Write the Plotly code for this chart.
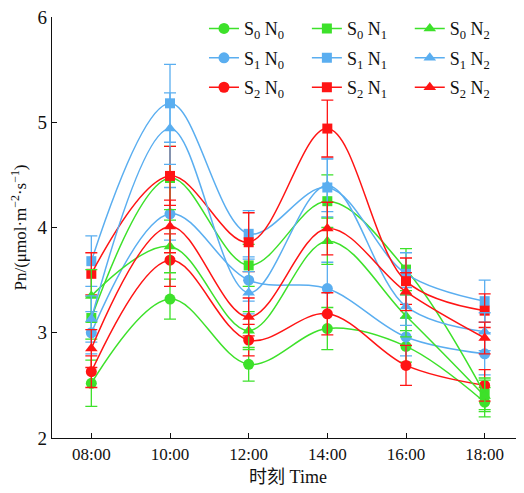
import plotly.graph_objects as go

times = ["08:00", "10:00", "12:00", "14:00", "16:00", "18:00"]

s0n0 = [2.52, 3.32, 2.70, 3.04, 2.87, 2.34]
s0n1 = [3.14, 4.47, 3.64, 4.25, 3.60, 2.42]
s0n2 = [3.35, 3.82, 3.02, 3.87, 3.16, 2.40]
s1n0 = [3.00, 4.13, 3.50, 3.42, 2.96, 2.80]
s1n1 = [3.68, 5.18, 3.94, 4.38, 3.56, 3.30]
s1n2 = [3.13, 4.94, 3.38, 4.40, 3.25, 3.01]
s2n0 = [2.63, 3.69, 2.93, 3.18, 2.69, 2.50]
s2n1 = [3.56, 4.49, 3.86, 4.94, 3.49, 3.21]
s2n2 = [2.85, 4.01, 3.15, 3.99, 3.39, 2.95]

e_s0n0 = [0.22, 0.19, 0.16, 0.20, 0.15, 0.14]
e_s0n1 = [0.20, 0.30, 0.20, 0.25, 0.20, 0.15]
e_s0n2 = [0.25, 0.25, 0.18, 0.22, 0.20, 0.15]
e_s1n0 = [0.20, 0.25, 0.20, 0.25, 0.18, 0.20]
e_s1n1 = [0.24, 0.37, 0.22, 0.28, 0.20, 0.20]
e_s1n2 = [0.22, 0.34, 0.20, 0.25, 0.18, 0.18]
e_s2n0 = [0.15, 0.25, 0.15, 0.20, 0.19, 0.15]
e_s2n1 = [0.20, 0.28, 0.28, 0.27, 0.22, 0.16]
e_s2n2 = [0.18, 0.25, 0.18, 0.25, 0.18, 0.15]

GREEN = "#3de12a"
BLUE = "#5aaef0"
RED = "#ff1414"
FONT = "Liberation Serif, Times New Roman, serif"

series = [
    ("S<sub>0</sub> N<sub>0</sub>", s0n0, e_s0n0, GREEN, "circle", "legend"),
    ("S<sub>1</sub> N<sub>0</sub>", s1n0, e_s1n0, BLUE, "circle", "legend"),
    ("S<sub>2</sub> N<sub>0</sub>", s2n0, e_s2n0, RED, "circle", "legend"),
    ("S<sub>0</sub> N<sub>1</sub>", s0n1, e_s0n1, GREEN, "square", "legend2"),
    ("S<sub>1</sub> N<sub>1</sub>", s1n1, e_s1n1, BLUE, "square", "legend2"),
    ("S<sub>2</sub> N<sub>1</sub>", s2n1, e_s2n1, RED, "square", "legend2"),
    ("S<sub>0</sub> N<sub>2</sub>", s0n2, e_s0n2, GREEN, "triangle-up", "legend3"),
    ("S<sub>1</sub> N<sub>2</sub>", s1n2, e_s1n2, BLUE, "triangle-up", "legend3"),
    ("S<sub>2</sub> N<sub>2</sub>", s2n2, e_s2n2, RED, "triangle-up", "legend3"),
]

fig = go.Figure()
for i, (name, vals, errs, col, sym, leg) in enumerate(series):
    fig.add_trace(go.Scatter(
        x=times, y=vals, name=name, mode="lines+markers",
        line=dict(color=col, width=1.5, shape="spline", smoothing=1.0),
        marker=dict(color=col, symbol=sym, size=11 if sym != "square" else 10),
        error_y=dict(type="data", array=errs, visible=True, color=col,
                     thickness=1.3, width=6),
        legend=leg, legendgroup=f"g{i}",
    ))

legcommon = dict(font=dict(family=FONT, size=18, color="#111"), bgcolor="rgba(0,0,0,0)",
                 yanchor="top", y=1.016, xanchor="left", tracegroupgap=3,
                 itemwidth=30)
fig.update_layout(
    width=524, height=493,
    margin=dict(l=44, r=8, t=9, b=63, autoexpand=False),
    plot_bgcolor="white", paper_bgcolor="white",
    font=dict(family=FONT, size=16, color="#111"),
    legend=dict(x=0.322, **legcommon),
    legend2=dict(x=0.540, **legcommon),
    legend3=dict(x=0.758, **legcommon),
    xaxis=dict(type="category", range=[-0.5, 5.5], showline=True, linecolor="#111",
               linewidth=1.3, ticks="inside", ticklen=5, tickcolor="#111", automargin=False,
               tickfont=dict(family=FONT, size=17), showgrid=False, zeroline=False,
               title=dict(text="时刻 Time", font=dict(family=FONT + ", Noto Sans CJK SC", size=18), standoff=7)),
    yaxis=dict(range=[2, 6], dtick=1, showline=True, linecolor="#111",
               linewidth=1.3, ticks="inside", ticklen=5, tickcolor="#111", automargin=False,
               ticklabeloverflow="allow",
               tickfont=dict(family=FONT, size=19), showgrid=False, zeroline=False,
               title=dict(text="Pn/(μmol·m<sup>−2</sup>·s<sup>−1</sup>)", font=dict(family=FONT, size=17), standoff=6)),
)

fig.write_html("out.html")
